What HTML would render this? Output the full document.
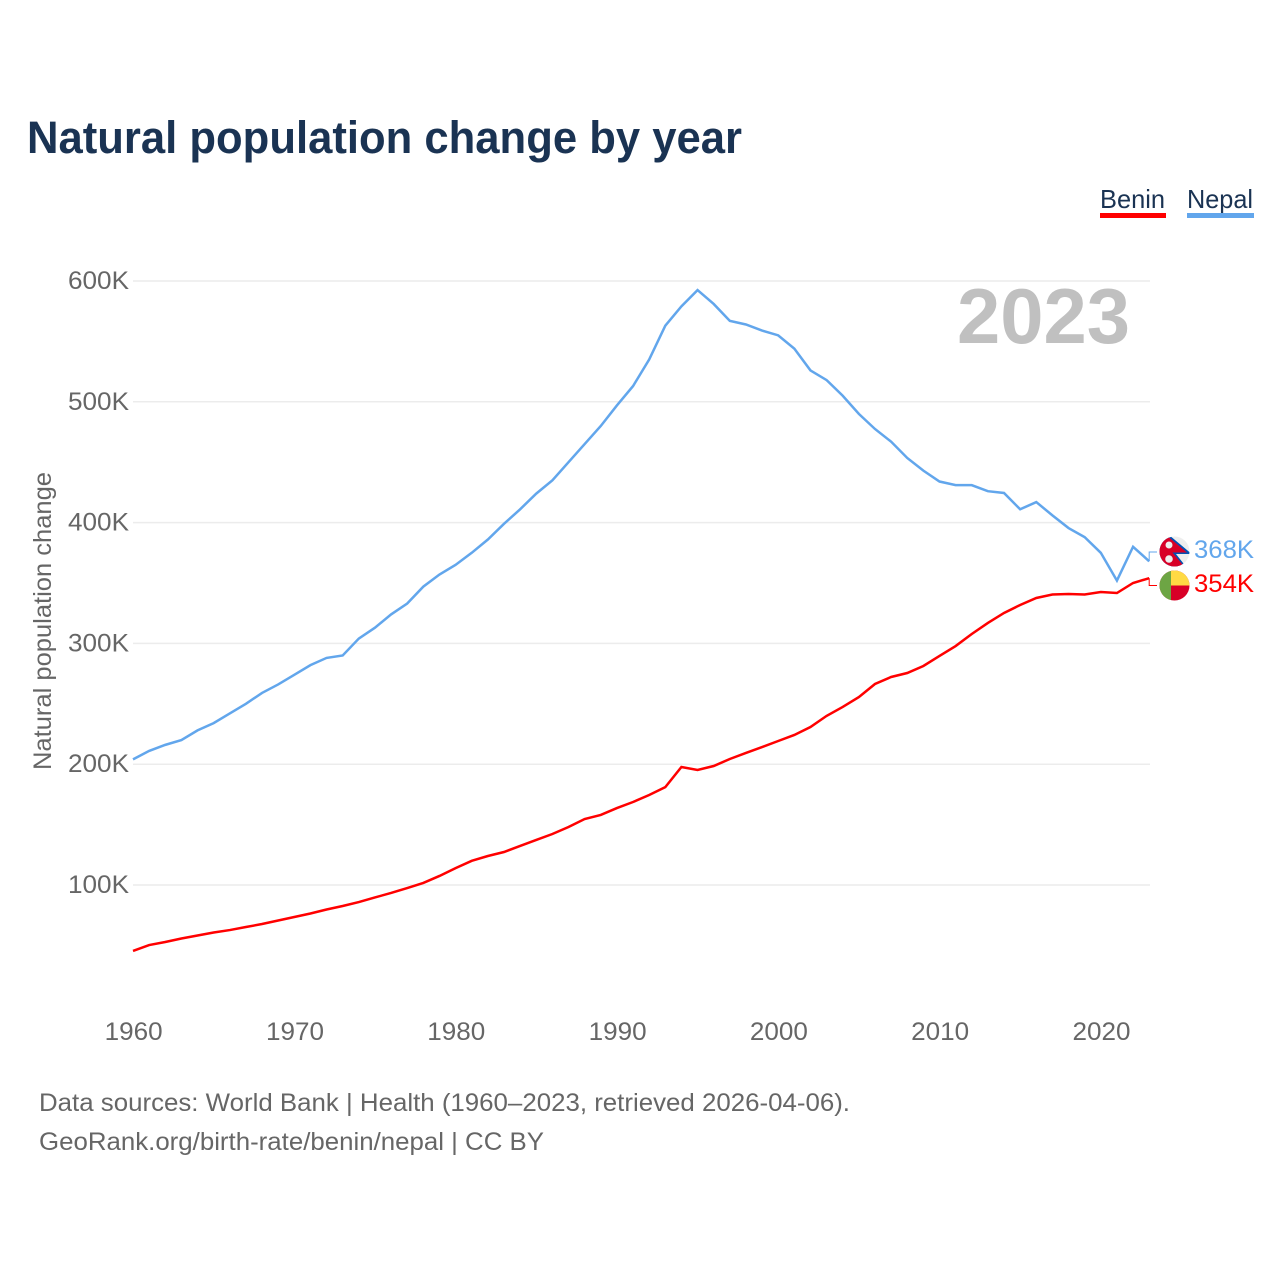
<!DOCTYPE html>
<html lang="en">
<head>
<meta charset="utf-8">
<title>Natural population change by year</title>
<style>
html,body{margin:0;padding:0;background:#fff;width:1280px;height:1280px;overflow:hidden}
svg{display:block}
text{font-family:"Liberation Sans",sans-serif}
</style>
</head>
<body>
<svg id="chart" xmlns="http://www.w3.org/2000/svg" width="1280" height="1280" viewBox="0 0 1280 1280">
  <rect width="1280" height="1280" fill="#fff"/>
  <text x="27" y="153" font-size="45" font-weight="700" fill="#1a3353" textLength="715" lengthAdjust="spacingAndGlyphs">Natural population change by year</text>

  <g>
    <g>
      <text x="1100" y="208" font-size="26" fill="#1a3353" textLength="65" lengthAdjust="spacingAndGlyphs">Benin</text>
      <rect x="1100" y="213" width="66" height="5" fill="#ff0000"/>
    </g>
    <g>
      <text x="1187" y="208" font-size="26" fill="#1a3353" textLength="66" lengthAdjust="spacingAndGlyphs">Nepal</text>
      <rect x="1187" y="213" width="67" height="5" fill="#62a6ec"/>
    </g>
  </g>

  <g id="grid"></g>
  <g id="yticks"></g>
  <g id="xticks"></g>

  <text transform="translate(51,621) rotate(-90)" text-anchor="middle" font-size="25" fill="#666" textLength="298" lengthAdjust="spacingAndGlyphs">Natural population change</text>
  <text x="957" y="343" font-size="78" font-weight="700" fill="#c0c0c0" textLength="173" lengthAdjust="spacingAndGlyphs">2023</text>

  <g id="series"></g>

  <defs>
    <clipPath id="clip-nepal"><circle cx="1174.5" cy="551.5" r="15"/></clipPath>
    <clipPath id="clip-benin"><circle cx="1174.5" cy="585.5" r="15"/></clipPath>
  </defs>

  <g clip-path="url(#clip-nepal)">
    <rect x="1159" y="536" width="31" height="32" fill="#eeeeee"/>
    <polygon points="1159,530 1169,535 1190,552.5 1190,554 1176,554 1187,568 1159,568" fill="#0052b4"/>
    <polygon points="1159,530 1168,536.5 1187,552.5 1172.5,552.5 1185,567.5 1159,568" fill="#d80027"/>
    <circle cx="1169" cy="545" r="3.5" fill="#eeeeee"/>
    <circle cx="1169" cy="559" r="3.8" fill="#eeeeee"/>
  </g>
  <g clip-path="url(#clip-benin)">
    <rect x="1159" y="570" width="31" height="32" fill="#d80027"/>
    <rect x="1171" y="570" width="19" height="15.5" fill="#ffda44"/>
    <rect x="1159" y="570" width="12" height="32" fill="#6da544"/>
  </g>
  <text x="1194" y="558" font-size="25" fill="#62a6ec" textLength="60" lengthAdjust="spacingAndGlyphs">368K</text>
  <text x="1194" y="592" font-size="25" fill="#ff0000" textLength="60" lengthAdjust="spacingAndGlyphs">354K</text>

  <text x="39" y="1111" font-size="25" fill="#666" textLength="811" lengthAdjust="spacingAndGlyphs">Data sources: World Bank | Health (1960–2023, retrieved 2026-04-06).</text>
  <text x="39" y="1150" font-size="25" fill="#666" textLength="505" lengthAdjust="spacingAndGlyphs">GeoRank.org/birth-rate/benin/nepal | CC BY</text>
</svg>
<script>
const startYear = 1960;
const yTickValues = [100, 200, 300, 400, 500, 600];
const yTickLabels = ["100K", "200K", "300K", "400K", "500K", "600K"];
const xTickValues = [1960, 1970, 1980, 1990, 2000, 2010, 2020];
const xTickLabels = ["1960", "1970", "1980", "1990", "2000", "2010", "2020"];
const nepalValues = [204,211,216,220,228,234,242,250,259,266,274,282,288,290,304,313,324,333,347,357,365,375,386,399,411,424,435,450,465,480,497,513,535,563,579,592.5,581,567,564,559,555,544,526,518,505,490,477.5,467,453.5,443,434,431,431,426,424.5,411,417,406,395.5,388,375,352,380,368];
const beninValues = [45.4,50.3,52.8,55.7,58.2,60.7,62.7,65.2,67.7,70.6,73.5,76.4,79.7,82.6,85.9,89.7,93.4,97.5,101.7,107.5,114,120,124,127.3,132.3,137.3,142.2,148,154.6,158,163.7,168.7,174.5,181,197.7,195.2,198.5,204.3,209.3,214.2,219.2,224.2,230.8,240,247.4,255.6,266.4,272.2,275.5,281.3,289.6,297.8,307.8,316.9,325.2,331.8,337.6,340.5,340.9,340.5,342.5,341.7,350,354];

const NS = "http://www.w3.org/2000/svg";
function xScale(year) { return 133 + (year - 1960) * 16.13; }
function yScale(v) { return 885 - (v - 100) * 1.208; }

const gridG = document.getElementById("grid");
const yG = document.getElementById("yticks");
const xG = document.getElementById("xticks");
const seriesG = document.getElementById("series");

yTickValues.forEach(function (v, i) {
  const line = document.createElementNS(NS, "line");
  
  
  line.setAttribute("x1", 133);
  line.setAttribute("x2", 1150);
  line.setAttribute("y1", yScale(v));
  line.setAttribute("y2", yScale(v));
  line.setAttribute("stroke", "#ececec");
  line.setAttribute("stroke-width", 1.5);
  gridG.appendChild(line);

  const t = document.createElementNS(NS, "text");
  
  
  t.setAttribute("x", 129);
  t.setAttribute("y", yScale(v) + 8);
  t.setAttribute("text-anchor", "end");
  t.setAttribute("font-size", 25);
  t.setAttribute("fill", "#666");
  t.setAttribute("textLength", 61);
  t.setAttribute("lengthAdjust", "spacingAndGlyphs");
  t.textContent = yTickLabels[i];
  yG.appendChild(t);
});

xTickValues.forEach(function (yr, i) {
  const t = document.createElementNS(NS, "text");
  
  
  t.setAttribute("x", xScale(yr) + 0.7);
  t.setAttribute("y", 1040);
  t.setAttribute("text-anchor", "middle");
  t.setAttribute("font-size", 25);
  t.setAttribute("fill", "#666");
  t.setAttribute("textLength", 58);
  t.setAttribute("lengthAdjust", "spacingAndGlyphs");
  t.textContent = xTickLabels[i];
  xG.appendChild(t);
});

function linePoints(values) {
  return values.map(function (v, i) {
    return xScale(startYear + i).toFixed(2) + "," + yScale(v).toFixed(2);
  }).join(" ");
}

const nepalLine = document.createElementNS(NS, "polyline");


nepalLine.setAttribute("points", linePoints(nepalValues));
nepalLine.setAttribute("fill", "none");
nepalLine.setAttribute("stroke", "#62a6ec");
nepalLine.setAttribute("stroke-width", 2.5);
seriesG.appendChild(nepalLine);

const beninLine = document.createElementNS(NS, "polyline");


beninLine.setAttribute("points", linePoints(beninValues));
beninLine.setAttribute("fill", "none");
beninLine.setAttribute("stroke", "#ff0000");
beninLine.setAttribute("stroke-width", 2.5);
seriesG.appendChild(beninLine);

function connector(values, labelY) {
  const endX = xScale(startYear + values.length - 1);
  const endY = yScale(values[values.length - 1]);
  return "M" + endX + "," + endY + " V" + labelY + " H1157";
}

const nepalConn = document.createElementNS(NS, "path");


nepalConn.setAttribute("d", connector(nepalValues, 552));
nepalConn.setAttribute("fill", "none");
nepalConn.setAttribute("stroke", "#62a6ec");
nepalConn.setAttribute("stroke-width", 1);
seriesG.appendChild(nepalConn);

const beninConn = document.createElementNS(NS, "path");


beninConn.setAttribute("d", connector(beninValues, 585.5));
beninConn.setAttribute("fill", "none");
beninConn.setAttribute("stroke", "#ff0000");
beninConn.setAttribute("stroke-width", 1);
seriesG.appendChild(beninConn);
</script>
</body>
</html>
